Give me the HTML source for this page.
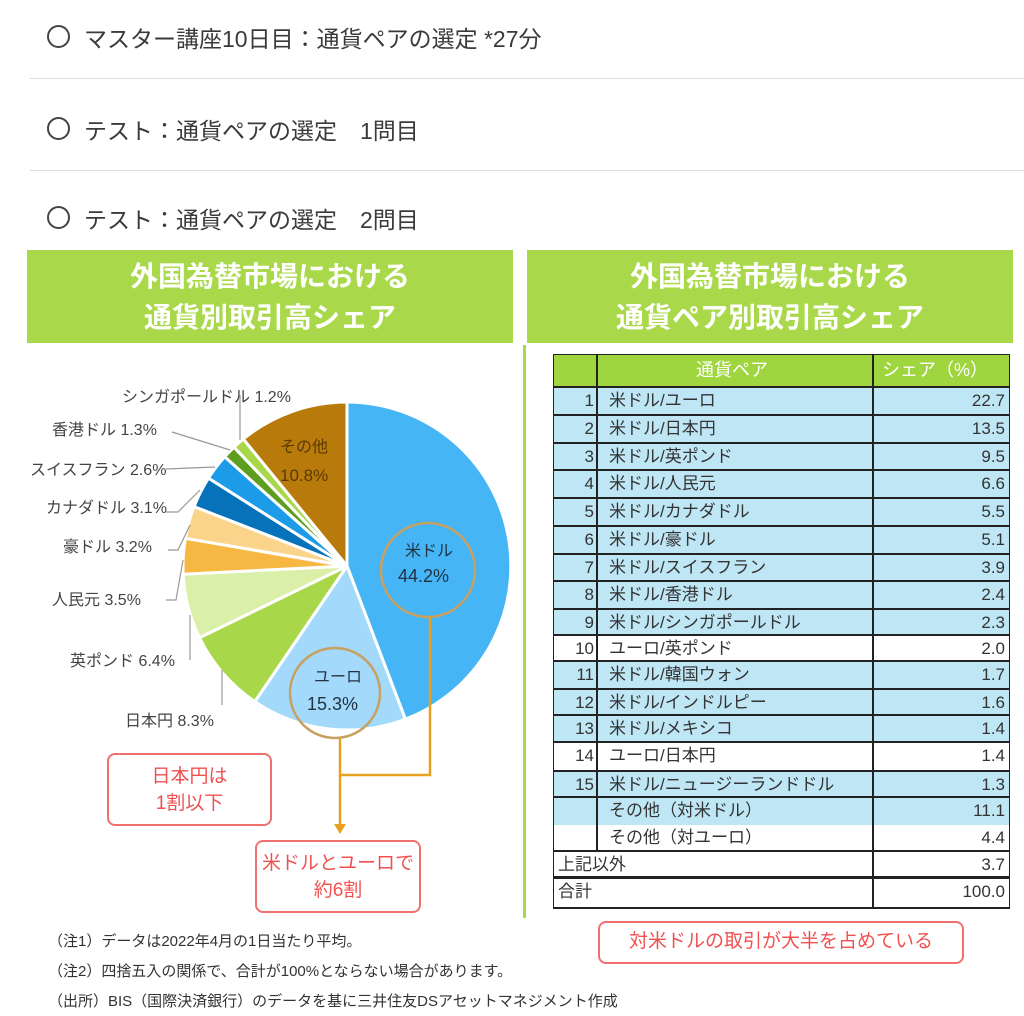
<!DOCTYPE html>
<html><head><meta charset="utf-8"><style>
body{margin:0;width:1024px;height:1016px;background:#fff;position:relative;overflow:hidden;font-family:"Liberation Sans","Noto Sans CJK JP",sans-serif;color:#333}
.a{position:absolute;white-space:nowrap}
.ti{font-size:23px;color:#3a3a3a}
.circ{position:absolute;width:19px;height:19px;border:2px solid #444;border-radius:50%}
.sep{position:absolute;left:30px;width:994px;height:1px;background:#ddd}
.hdr{position:absolute;top:250px;height:93px;background:#a9d94b;color:#fff;font-weight:bold;font-size:28px;text-align:center;line-height:41px;padding-top:6px;box-sizing:border-box}
.lb{font-size:16px;color:#444}
.tr{position:absolute;left:554px;width:455px;height:27px;border-bottom:2px solid #222;box-sizing:border-box;font-size:17px;color:#333;line-height:25px}
.tr .n{position:absolute;left:0;width:40px;text-align:right}
.tr .p{position:absolute;left:55px}
.tr .v{position:absolute;right:4px}
.note{font-size:15px;color:#333}
.box{position:absolute;border:2px solid #f07070;border-radius:8px;color:#f05050;text-align:center;font-size:19px;box-sizing:border-box}
</style></head><body>
<div class="circ" style="left:47px;top:25px"></div><div class="a ti" style="left:84px;top:20px">マスター講座10日目：通貨ペアの選定 *27分</div>
<div class="sep" style="top:78px"></div>
<div class="circ" style="left:47px;top:117px"></div><div class="a ti" style="left:84px;top:112px">テスト：通貨ペアの選定　1問目</div>
<div class="sep" style="top:170px"></div>
<div class="circ" style="left:47px;top:206px"></div><div class="a ti" style="left:84px;top:201px">テスト：通貨ペアの選定　2問目</div>

<div class="hdr" style="left:27px;width:486px">外国為替市場における<br>通貨別取引高シェア</div>
<div class="hdr" style="left:527px;width:486px">外国為替市場における<br>通貨ペア別取引高シェア</div>
<div class="a" style="left:523px;top:345px;width:3px;height:573px;background:#a9d94b"></div>

<svg class="a" style="left:0;top:0" width="524" height="1016">
<g stroke="#fff" stroke-width="3" stroke-linejoin="round">
<path d="M347,566 L347,402 A164,164 0 0 1 405.4,719.2Z" fill="#45b5f6"/>
<path d="M347,566 L405.4,719.2 A164,164 0 0 1 254.8,701.6Z" fill="#a3d9fa"/>
<path d="M347,566 L254.8,701.6 A164,164 0 0 1 199.5,637.7Z" fill="#a8d84a"/>
<path d="M347,566 L199.5,637.7 A164,164 0 0 1 183.2,574.2Z" fill="#daf0a8"/>
<path d="M347,566 L183.2,574.2 A164,164 0 0 1 185.4,538.3Z" fill="#f7b843"/>
<path d="M347,566 L185.4,538.3 A164,164 0 0 1 194.1,506.6Z" fill="#fbd48c"/>
<path d="M347,566 L194.1,506.6 A164,164 0 0 1 208.5,478.1Z" fill="#0572ba"/>
<path d="M347,566 L208.5,478.1 A164,164 0 0 1 224.7,456.8Z" fill="#1b9be8"/>
<path d="M347,566 L224.7,456.8 A164,164 0 0 1 234.0,447.2Z" fill="#5e9e1e"/>
<path d="M347,566 L234.0,447.2 A164,164 0 0 1 243.3,439.0Z" fill="#a8d84a"/>
<path d="M347,566 L243.3,439.0 A164,164 0 0 1 347,402Z" fill="#b97a0c"/>
</g>
<g stroke="#999" stroke-width="1.2" fill="none">
<polyline points="240,395 240,440"/>
<polyline points="172,432 230,450"/>
<polyline points="166,469 215,467"/>
<polyline points="166,512 178,512 200,490"/>
<polyline points="168,550 178,550 190,525"/>
<polyline points="166,600 176,600 183,560"/>
<polyline points="190,660 190,615"/>
<polyline points="222,705 222,670"/>
</g>
<g stroke="#c8a060" stroke-width="2.5" fill="none">
<circle cx="428" cy="570" r="47"/><circle cx="335" cy="693" r="45"/>
</g>
<g stroke="#e8a020" stroke-width="2.5" fill="none">
<polyline points="430,617 430,775 340,775 340,738"/>
<line x1="340" y1="775" x2="340" y2="826"/>
</g>
<polygon points="334,824 346,824 340,834" fill="#e8a020"/>
</svg>
<div class="a" style="left:280px;top:433px;font-size:16px;color:#5a3a00">その他</div>
<div class="a" style="left:280px;top:466px;font-size:17px;color:#5a3a00">10.8%</div>
<div class="a" style="left:405px;top:537px;font-size:16px;color:#234">米ドル</div>
<div class="a" style="left:398px;top:566px;font-size:18px;color:#234">44.2%</div>
<div class="a" style="left:314px;top:663px;font-size:16px;color:#234">ユーロ</div>
<div class="a" style="left:307px;top:694px;font-size:18px;color:#234">15.3%</div>

<div class="a lb" style="left:122px;top:383px">シンガポールドル 1.2%</div>
<div class="a lb" style="left:52px;top:416px">香港ドル 1.3%</div>
<div class="a lb" style="left:30px;top:456px">スイスフラン 2.6%</div>
<div class="a lb" style="left:46px;top:494px">カナダドル 3.1%</div>
<div class="a lb" style="left:63px;top:533px">豪ドル 3.2%</div>
<div class="a lb" style="left:52px;top:586px">人民元 3.5%</div>
<div class="a lb" style="left:70px;top:647px">英ポンド 6.4%</div>
<div class="a lb" style="left:125px;top:707px">日本円 8.3%</div>

<div class="box" style="left:107px;top:753px;width:165px;height:73px;padding-top:8px;line-height:27px">日本円は<br>1割以下</div>
<div class="box" style="left:255px;top:840px;width:166px;height:73px;padding-top:8px;line-height:27px">米ドルとユーロで<br>約6割</div>

<div class="a" style="left:553px;top:354px;width:457px;height:555px;border:2px solid #222;box-sizing:border-box"></div>
<div class="a" style="left:554px;top:355px;width:455px;height:33px;background:#9fd63f;border-bottom:2px solid #222;box-sizing:border-box;color:#fff;font-size:18px;line-height:31px">
<span class="a" style="left:142px">通貨ペア</span><span class="a" style="left:328px">シェア（%）</span></div>
<div class="tr" style="top:388px;height:28px;background:#bfe6f4"><span class="n">1</span><span class="p">米ドル/ユーロ</span><span class="v">22.7</span></div>
<div class="tr" style="top:416px;height:28px;background:#bfe6f4"><span class="n">2</span><span class="p">米ドル/日本円</span><span class="v">13.5</span></div>
<div class="tr" style="top:444px;height:27px;background:#bfe6f4"><span class="n">3</span><span class="p">米ドル/英ポンド</span><span class="v">9.5</span></div>
<div class="tr" style="top:471px;height:28px;background:#bfe6f4"><span class="n">4</span><span class="p">米ドル/人民元</span><span class="v">6.6</span></div>
<div class="tr" style="top:499px;height:28px;background:#bfe6f4"><span class="n">5</span><span class="p">米ドル/カナダドル</span><span class="v">5.5</span></div>
<div class="tr" style="top:527px;height:28px;background:#bfe6f4"><span class="n">6</span><span class="p">米ドル/豪ドル</span><span class="v">5.1</span></div>
<div class="tr" style="top:555px;height:27px;background:#bfe6f4"><span class="n">7</span><span class="p">米ドル/スイスフラン</span><span class="v">3.9</span></div>
<div class="tr" style="top:582px;height:28px;background:#bfe6f4"><span class="n">8</span><span class="p">米ドル/香港ドル</span><span class="v">2.4</span></div>
<div class="tr" style="top:610px;height:26px;background:#bfe6f4"><span class="n">9</span><span class="p">米ドル/シンガポールドル</span><span class="v">2.3</span></div>
<div class="tr" style="top:636px;height:26px;background:#fff"><span class="n">10</span><span class="p">ユーロ/英ポンド</span><span class="v">2.0</span></div>
<div class="tr" style="top:662px;height:28px;background:#bfe6f4"><span class="n">11</span><span class="p">米ドル/韓国ウォン</span><span class="v">1.7</span></div>
<div class="tr" style="top:690px;height:26px;background:#bfe6f4"><span class="n">12</span><span class="p">米ドル/インドルピー</span><span class="v">1.6</span></div>
<div class="tr" style="top:716px;height:27px;background:#bfe6f4"><span class="n">13</span><span class="p">米ドル/メキシコ</span><span class="v">1.4</span></div>
<div class="tr" style="top:743px;height:29px;background:#fff"><span class="n">14</span><span class="p">ユーロ/日本円</span><span class="v">1.4</span></div>
<div class="tr" style="top:772px;height:26px;background:#bfe6f4"><span class="n">15</span><span class="p">米ドル/ニュージーランドドル</span><span class="v">1.3</span></div>
<div class="tr" style="top:798px;height:27px;background:#bfe6f4;border-bottom:none"><span class="p">その他（対米ドル）</span><span class="v">11.1</span></div>
<div class="tr" style="top:825px;height:27px;background:#fff"><span class="p">その他（対ユーロ）</span><span class="v">4.4</span></div>
<div class="tr" style="top:852px;height:27px;background:#fff;border-bottom:3px solid #222"><span class="a" style="left:4px">上記以外</span><span class="v">3.7</span></div>
<div class="tr" style="top:879px;height:28px;background:#fff;border-bottom:none"><span class="a" style="left:4px">合計</span><span class="v">100.0</span></div>
<div class="a" style="left:596px;top:355px;width:2px;height:497px;background:#222"></div>
<div class="a" style="left:872px;top:355px;width:2px;height:553px;background:#222"></div>

<div class="box" style="left:598px;top:921px;width:366px;height:43px;line-height:38px">対米ドルの取引が大半を占めている</div>

<div class="a note" style="left:48px;top:930px">（注1）データは2022年4月の1日当たり平均。</div>
<div class="a note" style="left:48px;top:960px">（注2）四捨五入の関係で、合計が100%とならない場合があります。</div>
<div class="a note" style="left:48px;top:990px">（出所）BIS（国際決済銀行）のデータを基に三井住友DSアセットマネジメント作成</div>
</body></html>
